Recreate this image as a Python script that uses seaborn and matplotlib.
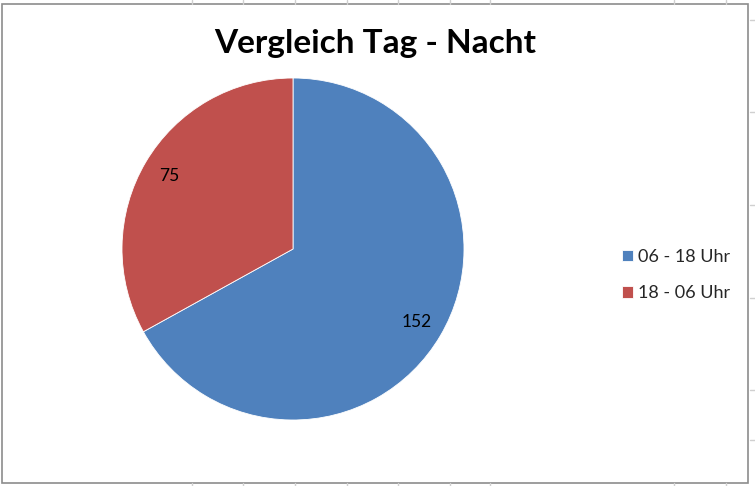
import matplotlib
matplotlib.use("Agg")
import matplotlib.pyplot as plt
from matplotlib.patches import Rectangle
from matplotlib.lines import Line2D
import seaborn as sns

categories = ["06 - 18 Uhr", "18 - 06 Uhr"]
values = [152, 75]
title = "Vergleich Tag - Nacht"
colors = ["#4F81BD", "#C0504D"]

sns.set_theme(style="white")
plt.rcParams["font.family"] = ["Lato", "DejaVu Sans"]

W, H = 755, 486
fig = plt.figure(figsize=(W / 100, H / 100), dpi=100)
fig.patch.set_facecolor("white")

# spreadsheet grid lines outside the chart frame
grid_x = [192, 243, 295, 347, 398, 450, 490, 674, 726]
for gx in grid_x:
    fig.add_artist(Line2D([gx / W, gx / W], [1 - 4 / H, 1], color="#d0d0d0", lw=1))
    fig.add_artist(Line2D([gx / W, gx / W], [0, 3 / H], color="#d0d0d0", lw=1))
grid_y = [20, 112, 205, 298, 390, 440]
for gy in grid_y:
    fig.add_artist(Line2D([750 / W, 1], [1 - gy / H, 1 - gy / H], color="#d0d0d0", lw=1))

# chart frame
fig.add_artist(Rectangle((1.5 / W, 3 / H), (748 - 1.5) / W, (482 - 3) / H,
                         transform=fig.transFigure, fill=False,
                         edgecolor="#8c8c8c", lw=1.2))

ax = fig.add_axes([122 / W, (H - 420) / H, 342 / W, 342 / H])
total = sum(values)
wedges, texts, autotexts = ax.pie(
    values, colors=colors, startangle=90, counterclock=False,
    autopct=lambda p: f"{p * total / 100:.0f}", pctdistance=0.84,
    wedgeprops=dict(edgecolor="white", linewidth=0.6),
    textprops=dict(fontsize=12.5, color="black"))
ax.set_xlim(-1, 1)
ax.set_ylim(-1, 1)
ax.set_aspect("equal")
ax.axis("off")

fig.text(375 / W, 1 - 44 / H, title, ha="center", va="center",
         fontsize=24, fontweight="bold", color="black")

leg = fig.legend(wedges, categories, loc="center left",
                 bbox_to_anchor=(606 / W, 1 - 275 / H), frameon=False,
                 fontsize=13, handlelength=0.6, handleheight=0.6,
                 handletextpad=0.3, labelspacing=1.15)

fig.savefig("out.png", dpi=100, facecolor="white")
